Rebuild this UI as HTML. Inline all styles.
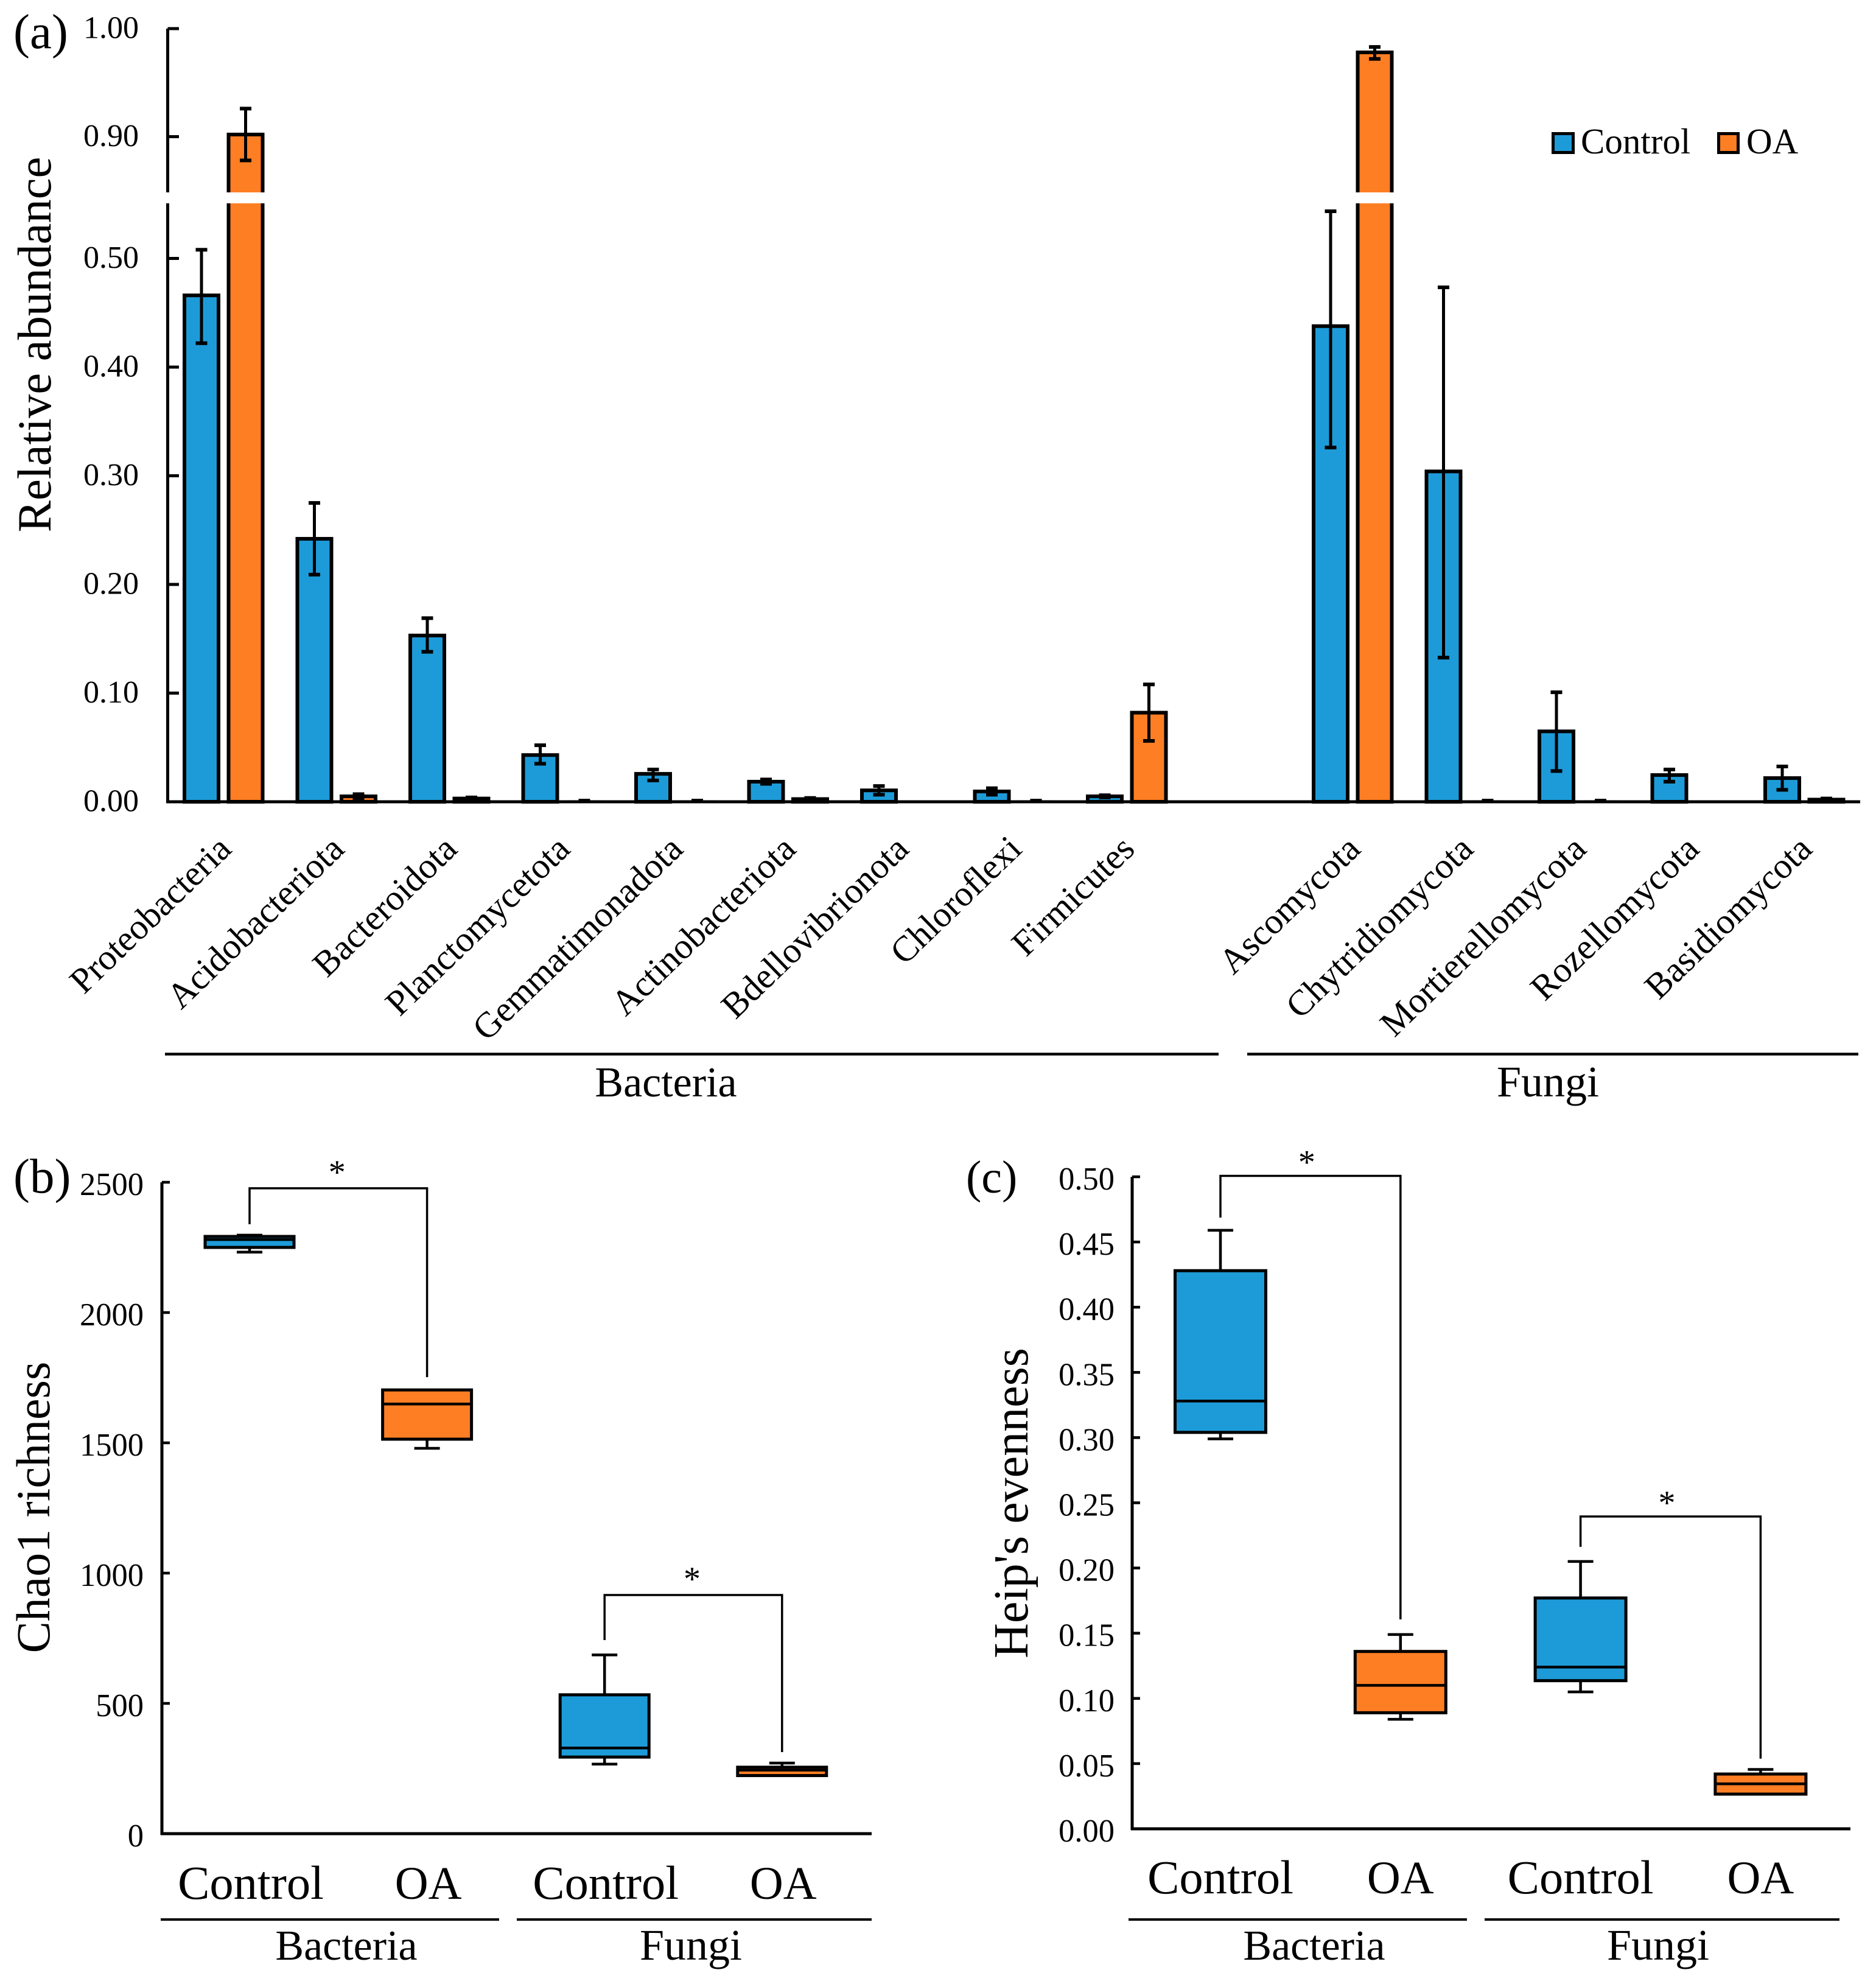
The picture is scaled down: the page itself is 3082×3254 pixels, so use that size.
<!DOCTYPE html>
<html lang="en">
<head>
<meta charset="utf-8">
<title>Relative abundance, Chao1 richness and Heip's evenness</title>
<style>
html,body{margin:0;padding:0;background:#fff}
svg{display:block}
text{font-family:"Liberation Serif","Noto Serif CJK SC",serif;fill:#000}
</style>
</head>
<body>
<svg id="figure" xmlns="http://www.w3.org/2000/svg" width="3082" height="3254" viewBox="0 0 3082 3254">
<rect x="0" y="0" width="3082" height="3254" fill="#fff"/>
<g id="panelA"></g>
<g id="panelB"></g>
<g id="panelC"></g>
</svg>
<script>
// ---- Panel (a) data ----
const categories = ["Proteobacteria","Acidobacteriota","Bacteroidota","Planctomycetota","Gemmatimonadota","Actinobacteriota","Bdellovibrionota","Chloroflexi","Firmicutes","Ascomycota","Chytridiomycota","Mortierellomycota","Rozellomycota","Basidiomycota"];
const controlValues = [0.466,0.242,0.153,0.043,0.0257,0.0185,0.0105,0.0095,0.005,0.4377,0.304,0.0648,0.0246,0.0218];
const controlErrHigh = [0.508,0.275,0.169,0.052,0.0297,0.0205,0.0145,0.0125,0.006,0.5434,0.4734,0.1008,0.0297,0.0325];
const controlErrLow = [0.422,0.209,0.138,0.035,0.0196,0.0165,0.0065,0.0065,0.004,0.326,0.1326,0.0283,0.0185,0.011];
const oaValues = [0.902,0.005,0.003,0.001,0.001,0.0025,0,0.001,0.082,0.978,0.001,0.001,0,0.002];
const oaErrHigh = [0.926,0.007,0.004,0.001,0.001,0.0035,0,0.001,0.108,0.983,0.001,0.001,0,0.003];
const oaErrLow = [0.878,0.003,0.002,0.001,0.001,0.0015,0,0.001,0.056,0.972,0.001,0.001,0,0.001];
const abundanceTicks = [0,0.1,0.2,0.3,0.4,0.5,0.9,1.0];
const abundanceTickLabels = ["0.00","0.10","0.20","0.30","0.40","0.50","0.90","1.00"];

// ---- Panel (b) data ----
const boxGroups = ["Control","OA","Control","OA"];
const chaoHigh = [2297,1703,686,271];
const chaoQ3 = [2292,1703,533,255];
const chaoMedian = [2280,1649,329,244];
const chaoQ1 = [2250,1514,294,223];
const chaoLow = [2232,1479,267,223];
const chaoTicks = [0,500,1000,1500,2000,2500];
const chaoTickLabels = ["0","500","1000","1500","2000","2500"];
const chaoBracketTop = [2477,916];
const chaoBracketLeftEnd = [2339,743];
const chaoBracketRightEnd = [1752,313];

// ---- Panel (c) data ----
const heipHigh = [0.459,0.149,0.205,0.0455];
const heipQ3 = [0.428,0.136,0.177,0.042];
const heipMedian = [0.328,0.110,0.124,0.0345];
const heipQ1 = [0.304,0.089,0.1136,0.0266];
const heipLow = [0.299,0.084,0.105,0.0266];
const heipTicks = [0,0.05,0.1,0.15,0.2,0.25,0.3,0.35,0.4,0.45,0.5];
const heipTickLabels = ["0.00","0.05","0.10","0.15","0.20","0.25","0.30","0.35","0.40","0.45","0.50"];
const heipBracketTop = [0.5007,0.2395];
const heipBracketLeftEnd = [0.4687,0.2162];
const heipBracketRightEnd = [0.1606,0.0538];

const BLUE = "#1d9bd8";
const ORANGE = "#fe7e24";
const NS = "http://www.w3.org/2000/svg";

function make(tag, parent, attrs) {
  const node = document.createElementNS(NS, tag);
  for (const k in attrs) node.setAttribute(k, attrs[k]);
  parent.appendChild(node);
  return node;
}
function slug(s) { return s.toLowerCase().replace(/[^a-z0-9]+/g, "-"); }

function line(parent, x1, y1, x2, y2, w) {
  return make("line", parent, {x1:x1, y1:y1, x2:x2, y2:y2, stroke:"#000", "stroke-width":w});
}
function label(parent, str, x, y, size, anchor, transform) {
  const t = make("text", parent, {x:x, y:y, "font-size":size, "text-anchor":anchor || "start"});
  if (transform) t.setAttribute("transform", transform);
  t.textContent = str;
  return t;
}

// ---------- Panel (a) ----------
const panelA = document.getElementById("panelA");
function yA(v) { return v >= 0.8 ? 224.5 - (v - 0.9) * 1775 : 1317 - v * 1785; }
function xA(slot) { return 331 + slot * 185.5; }
function slotOf(i) { return i < 9 ? i : i + 1; }
const ORANGE_OFFSET = 72.5;
const BAR_W = 56;

function drawBar(parent, cx, v, fill) {
  const top = yA(v);
  const bar = make("rect", parent, {x:cx - BAR_W / 2, y:top, width:BAR_W, height:Math.max(0, 1317 - top), fill:fill, stroke:"#000", "stroke-width":v > 0.0015 ? 6 : 1.5});
  return bar;
}
function drawErr(parent, cx, hi, lo) {
  const g = make("g", parent, {});
  line(g, cx, yA(hi), cx, yA(lo), 5);
  line(g, cx - 9.5, yA(hi), cx + 9.5, yA(hi), 6);
  line(g, cx - 9.5, yA(lo), cx + 9.5, yA(lo), 6);
  return g;
}

categories.forEach(function (name, i) {
  const cx = xA(slotOf(i));
  const ox = cx + ORANGE_OFFSET;
  if (controlValues[i] > 0) {
    const barC = drawBar(panelA, cx, controlValues[i], BLUE);
    
    
    const errC = drawErr(panelA, cx, controlErrHigh[i], controlErrLow[i]);
    
    
  }
  if (oaValues[i] > 0) {
    const barO = drawBar(panelA, ox, oaValues[i], ORANGE);
    
    
    const errO = drawErr(panelA, ox, oaErrHigh[i], oaErrLow[i]);
    
    
  }
  const lx = xA(slotOf(i)) + 52;
  const catLabel = label(panelA, name, lx, 1398, 59, "end", "rotate(-44 " + lx + " 1398)");
  
  
});

const axisAY = line(panelA, 275.5, yA(1), 275.5, 1319, 5);


const axisAX = line(panelA, 273, 1317, 3056, 1317, 5);



abundanceTicks.forEach(function (v, i) {
  const y = yA(v);
  if (v > 0) {
    const tick = line(panelA, 275.5, y, 294, y, 5);
    
    
  }
  const tl = label(panelA, abundanceTickLabels[i], 228, y + 15.5, 52, "end");
  
  
});

const breakBand = make("rect", panelA, {x:262, y:316, width:2790, height:18, fill:"#fff"});



const titleA = label(panelA, "Relative abundance", 83, 566, 78.5, "middle", "rotate(-90 83 566)");


const tagA = label(panelA, "(a)", 22, 79, 81);



const groupLineBac = line(panelA, 271, 1731.5, 2002, 1731.5, 4.5);


const groupLineFun = line(panelA, 2049, 1731.5, 3053, 1731.5, 4.5);


const groupTextBac = label(panelA, "Bacteria", 1094, 1801, 70, "middle");


const groupTextFun = label(panelA, "Fungi", 2543, 1801, 72, "middle");



const swatchC = make("rect", panelA, {x:2551.5, y:219.5, width:33, height:31, fill:BLUE, stroke:"#000", "stroke-width":5});


const legC = label(panelA, "Control", 2597, 252, 59);


const swatchO = make("rect", panelA, {x:2823.5, y:219.5, width:32, height:31, fill:ORANGE, stroke:"#000", "stroke-width":5});


const legO = label(panelA, "OA", 2869, 252, 59);



// ---------- Box panels ----------
function drawBoxPanel(parent, cfg, high, q3, med, q1, low, ticks, tickLabels, brTop, brLeft, brRight) {
  const yS = cfg.y;
  const xS = cfg.x;
  boxGroups.forEach(function (group, i) {
    const cx = xS(i);
    const fill = i % 2 === 0 ? BLUE : ORANGE;
    const g = make("g", parent, {});
    
    
    line(g, cx, yS(high[i]), cx, yS(q3[i]), 4.5);
    line(g, cx, yS(q1[i]), cx, yS(low[i]), 4.5);
    if (high[i] > q3[i]) line(g, cx - 21, yS(high[i]), cx + 21, yS(high[i]), 4.5);
    if (low[i] < q1[i]) line(g, cx - 21, yS(low[i]), cx + 21, yS(low[i]), 4.5);
    make("rect", g, {x:cx - cfg.boxHalf, y:yS(q3[i]), width:cfg.boxHalf * 2, height:yS(q1[i]) - yS(q3[i]), fill:fill, stroke:"#000", "stroke-width":5});
    line(g, cx - cfg.boxHalf, yS(med[i]), cx + cfg.boxHalf, yS(med[i]), 4.5);
    const catT = label(parent, group, cx + cfg.labelDx, cfg.catBaseline, group === "OA" ? 76 : 78.5, "middle");
    
    
  });
  const ax = line(parent, cfg.axisX, yS(cfg.max), cfg.axisX, yS(0) + 2, 5);
  
  
  const bx = line(parent, cfg.axisX - 2, yS(0), cfg.axisEnd, yS(0), 5);
  
  
  ticks.forEach(function (v, i) {
    const y = yS(v);
    if (v > 0) {
      const tk = line(parent, cfg.axisX, y, cfg.axisX + 13, y, 4.5);
      
      
    }
    const tl = label(parent, tickLabels[i], cfg.tickEnd, y + 21, 52.5, "end");
    
    
  });
  brTop.forEach(function (v, k) {
    const xL = xS(k * 2);
    const xR = xS(k * 2 + 1);
    const b = make("path", parent, {d:"M" + xL + " " + yS(brLeft[k]) + "V" + yS(v) + "H" + xR + "V" + yS(brRight[k]), fill:"none", stroke:"#000", "stroke-width":3.5});
    
    
    const s = label(parent, "*", (xL + xR) / 2 + cfg.starDx, yS(v) - cfg.starUp, 56, "middle");
    
    
  });
}

const panelB = document.getElementById("panelB");
drawBoxPanel(panelB, {
  y: function (v) { return 3012 - v * 0.428; },
  x: function (i) { return 410 + i * 291.6; },
  max: 2500, axisX: 266, axisEnd: 1432, tickEnd: 236, catBaseline: 3119, labelDx: 2, starDx: -2, starUp: 8, boxHalf: 73
}, chaoHigh, chaoQ3, chaoMedian, chaoQ1, chaoLow, chaoTicks, chaoTickLabels, chaoBracketTop, chaoBracketLeftEnd, chaoBracketRightEnd);

const panelC = document.getElementById("panelC");
drawBoxPanel(panelC, {
  y: function (v) { return 3004 - v * 2142; },
  x: function (i) { return 2005 + i * 295.8; },
  max: 0.5, axisX: 1860, axisEnd: 3040, tickEnd: 1831, catBaseline: 3110, labelDx: 0, starDx: -6, starUp: 4, boxHalf: 74.5
}, heipHigh, heipQ3, heipMedian, heipQ1, heipLow, heipTicks, heipTickLabels, heipBracketTop, heipBracketLeftEnd, heipBracketRightEnd);

const titleB = label(panelB, "Chao1 richness", 81, 2476, 78, "middle", "rotate(-90 81 2476)");


const tagB = label(panelB, "(b)", 22, 1959, 81);


const bLineBac = line(panelB, 264, 3153, 820, 3153, 4);


const bLineFun = line(panelB, 849, 3153, 1432, 3153, 4);


const bTextBac = label(panelB, "Bacteria", 569, 3219, 70, "middle");


const bTextFun = label(panelB, "Fungi", 1135, 3219, 72, "middle");



const titleC = label(panelC, "Heip's evenness", 1688, 2469, 80, "middle", "rotate(-90 1688 2469)");


const tagC = label(panelC, "(c)", 1587, 1959, 76);


const cLineBac = line(panelC, 1854, 3153, 2410, 3153, 4);


const cLineFun = line(panelC, 2439, 3153, 3022, 3153, 4);


const cTextBac = label(panelC, "Bacteria", 2159, 3219, 70, "middle");


const cTextFun = label(panelC, "Fungi", 2724, 3219, 72, "middle");


</script>
</body>
</html>
